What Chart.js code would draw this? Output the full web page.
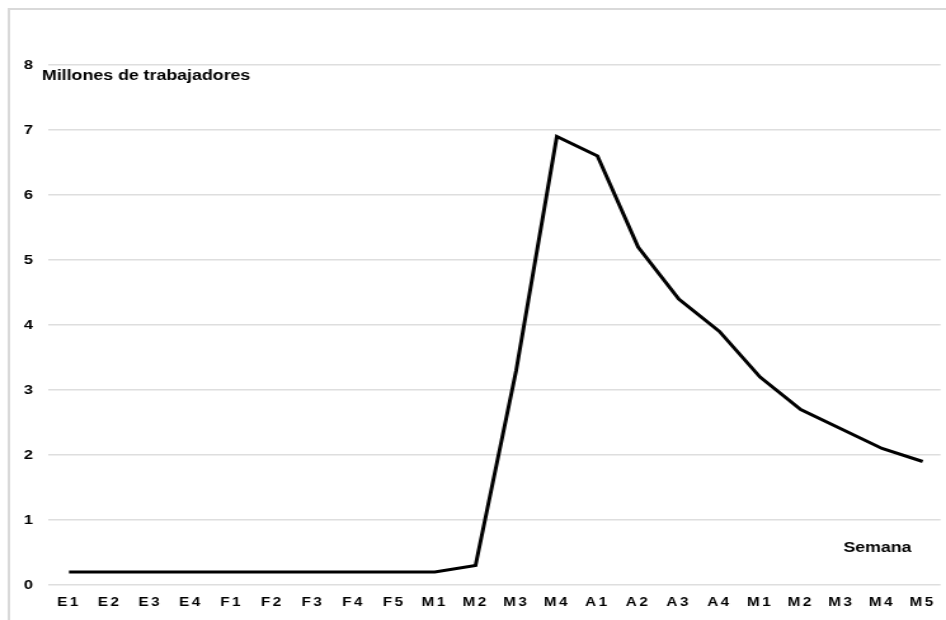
<!DOCTYPE html>
<html lang="es">
<head>
  <meta charset="UTF-8">
  <title>Millones de trabajadores por semana</title>
  <script src="https://cdn.jsdelivr.net/npm/chart.js"></script>
  <style>
    html, body { margin: 0; padding: 0; background: #fff; }
  </style>
</head>
<body>
  <!-- the reference is stretched sideways, so the canvas is drawn narrow and widened by its inline style -->
  <canvas id="chart" width="745" height="620" style="display:block;width:946px;height:620px"></canvas>

  <script>
    const weeks = ['E1', 'E2', 'E3', 'E4', 'F1', 'F2', 'F3', 'F4', 'F5', 'M1', 'M2', 'M3', 'M4',
                   'A1', 'A2', 'A3', 'A4', 'M1', 'M2', 'M3', 'M4', 'M5'];
    const workers = [0.2, 0.2, 0.2, 0.2, 0.2, 0.2, 0.2, 0.2, 0.2, 0.2, 0.3, 3.3, 6.9,
                     6.6, 5.2, 4.4, 3.9, 3.2, 2.7, 2.4, 2.1, 1.9];
    const yTicks = [0, 1, 2, 3, 4, 5, 6, 7, 8];
    const yTitle = 'Millones de trabajadores';
    const xTitle = 'Semana';

    const font = '"Liberation Sans", Arial, sans-serif';

    // frame + the two axis captions
    const decor = {
      id: 'decor',
      beforeDraw(chart) {
        const ctx = chart.ctx;
        ctx.save();
        ctx.strokeStyle = '#d9d9d9';
        ctx.lineWidth = 2;
        ctx.strokeRect(7, 9, chart.width + 20, chart.height + 20);
        ctx.restore();
        // week labels are spaced out in the original
        ctx.letterSpacing = '2px';
      },
      afterDraw(chart) {
        const ctx = chart.ctx;
        const y = chart.scales.y;
        const x = chart.scales.x;
        ctx.letterSpacing = '0px';
        ctx.save();
        ctx.fillStyle = '#000';
        ctx.font = 'bold 14px ' + font;
        ctx.textBaseline = 'middle';
        ctx.fillText(yTitle, 33, y.getPixelForValue(7.83));
        ctx.fillText(xTitle, x.getPixelForValue(19.05), y.getPixelForValue(0.57));
        ctx.restore();
      }
    };

    new Chart(document.getElementById('chart'), {
      type: 'line',
      data: {
        datasets: [{
          data: workers.map((v, i) => ({ x: i, y: v })),
          borderColor: '#000',
          borderWidth: 3,
          pointRadius: 0,
          tension: 0,
          fill: false
        }]
      },
      options: {
        responsive: false,
        devicePixelRatio: 1,
        animation: false,
        layout: { padding: { top: 65, right: 2, bottom: 0, left: 0 } },
        plugins: {
          legend: { display: false },
          tooltip: { enabled: false }
        },
        scales: {
          x: {
            type: 'linear',
            min: -0.51,
            max: 21.44,
            afterBuildTicks: s => { s.ticks = weeks.map((w, i) => ({ value: i })); },
            afterFit: s => { s.height = 35; },
            grid: { display: false, drawTicks: false },
            border: { display: false },
            ticks: {
              autoSkip: false,
              maxRotation: 0,
              padding: 10,
              color: '#000',
              font: { family: font, size: 12, weight: 'bold' },
              callback: v => weeks[v]
            }
          },
          y: {
            min: 0,
            max: 8,
            afterBuildTicks: s => { s.ticks = yTicks.map(v => ({ value: v })); },
            afterFit: s => { s.width = 38; },
            grid: { color: '#dedede', lineWidth: 1.5, drawTicks: false },
            border: { display: false },
            ticks: {
              padding: 10,
              color: '#000',
              font: { family: font, size: 13, weight: 'bold' }
            }
          }
        }
      },
      plugins: [decor]
    });
  </script>
</body>
</html>
